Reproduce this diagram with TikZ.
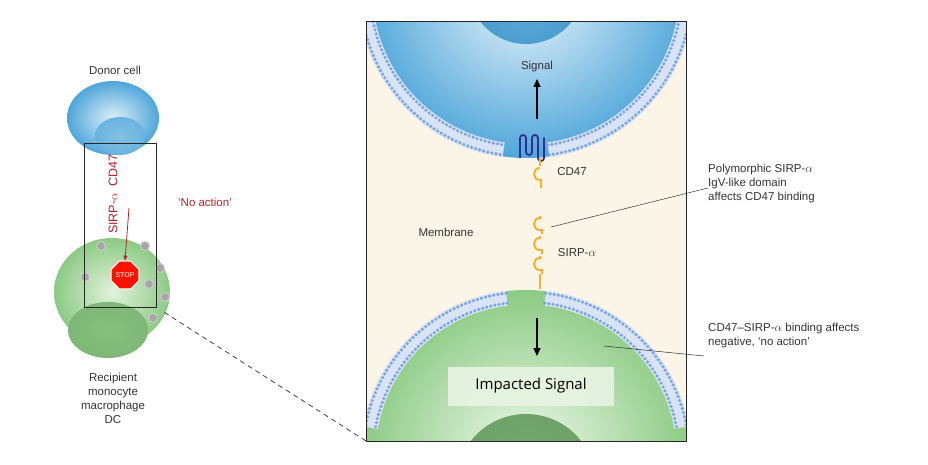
\documentclass[tikz,border=0pt]{standalone}
\usepackage{fontspec}
\setmainfont{Liberation Sans}
\newfontfamily\osans{Open Sans}
\usetikzlibrary{arrows.meta,shapes.geometric}
\definecolor{cream}{HTML}{FBF5E8}
\definecolor{cellblue}{HTML}{4FA6DA}
\definecolor{paleblue}{HTML}{DDEFF8}
\definecolor{cellgreen}{HTML}{8CCB84}
\definecolor{palegreen}{HTML}{E2F1DC}
\definecolor{memb}{HTML}{7FA6DC}
\definecolor{navy}{HTML}{2E3192}
\definecolor{orng}{HTML}{F2B230}
\definecolor{darkred}{HTML}{B2232B}
\tikzset{
  lbl/.style={font=\fontsize{11.5}{14}\selectfont, text=black!80, align=left},
  membr/.style={line width=15pt, memb!30},
  dots/.style={line width=3.6pt, memb, dash pattern=on 0pt off 4.2pt, line cap=round},
  hook/.style={orng, line width=2pt},
  leader/.style={black!80, line width=0.5pt},
  gdot/.style={circle, fill=gray!70, draw=gray!40!white, line width=1pt, minimum size=9pt, inner sep=0pt}
}
\begin{document}
\begin{tikzpicture}[x=1pt,y=1pt]
\useasboundingbox (0,0) rectangle (928,464);
% ---------- right panel ----------
\begin{scope}
\clip (366,23) rectangle (686,442);
\fill[cream] (366,23) rectangle (686,442);
% top cell
\shade[inner color=paleblue!50!white, outer color=cellblue] (526,473.5) circle (167.5);
\shade[inner color=cellblue!85, outer color=cellblue!95!black] (526,478) circle (58);
\draw[membr] (526,473.5) ++(190:161) arc (190:262:161);
\draw[membr] (526,473.5) ++(278:161) arc (278:350:161);
\foreach \r in {156,166}{
  \draw[dots] (526,473.5) ++(190:\r) arc (190:262:\r);
  \draw[dots] (526,473.5) ++(278:\r) arc (278:350:\r);}
% bottom cell
\shade[inner color=palegreen!50!white, outer color=cellgreen] (526,9) circle (165);
\shade[inner color=cellgreen!85!black, outer color=cellgreen!80!black] (526,-20) circle (70);
\draw[membr] (526,9) ++(97:158) arc (97:170:158);
\draw[membr] (526,9) ++(83:158) arc (83:10:158);
\foreach \r in {153,163}{
  \draw[dots] (526,9) ++(97:\r) arc (97:170:\r);
  \draw[dots] (526,9) ++(83:\r) arc (83:10:\r);}
\end{scope}
\draw[black!85, line width=1pt] (366,23) rectangle (686,442);
% receptor
\draw[navy, line width=1.8pt, line join=round]
 (520,306) -- (520,326) arc (180:0:3) -- (526,312) arc (180:360:3) -- (532,326) arc (180:0:3) -- (538,306) arc (180:360:3) -- (544,326) -- (544,306);
% CD47 orange
\draw[hook] (540,306) -- (540,298);
\draw[hook] (540,296) .. controls (532,296) and (532,284) .. (540,284) -- (541,284) -- (541,276);
% SIRP orange hooks
\foreach \yy in {248,228,208}{
  \draw[hook] (540,\yy) -- (540,\yy-2) .. controls (532,\yy-2) and (532,\yy-14) .. (540,\yy-14) -- (542,\yy-14) -- (542,\yy-18);}
\draw[hook] (540,190) -- (540,175);
% arrows and labels
\coordinate (sigtail) at (537,345);
\coordinate (sighead) at (537,385);
\draw[-{Triangle[length=8pt,width=7pt]}, line width=1.5pt] (sigtail) -- (sighead);
\node[lbl] (signal) at (537,397) {Signal};
\coordinate (imptail) at (537,146);
\coordinate (imphead) at (537,108);
\draw[-{Triangle[length=8pt,width=7pt]}, line width=1.5pt] (imptail) -- (imphead);
\node[fill=palegreen!80!white, fill opacity=0.9, text opacity=1, minimum width=166pt, minimum height=39pt, font=\osans\fontsize{15}{18}\selectfont] (imp) at (531,78) {Impacted Signal};
\node[lbl] (cd47) at (572,292) {CD47};
\node[lbl] (membrane) at (446,232) {Membrane};
\node[lbl] (sirp) at (577,211) {SIRP-$\alpha$};
\node[lbl, anchor=north west, inner sep=0pt] (poly) at (708,300) {Polymorphic SIRP-$\alpha$\\IgV-like domain\\affects CD47 binding};
\node[lbl, anchor=north west, inner sep=0pt] (neg) at (708,141) {CD47--SIRP-$\alpha$ binding affects\\negative, `no action'};
\coordinate (l1) at (551,237);
\coordinate (l2) at (604,118);
\draw[leader] (l1) -- (poly.west |- 0,276);
\draw[leader] (l2) -- (704,108);
% ---------- left ----------
\shade[inner color=paleblue, outer color=cellblue] (113,346) ellipse (46 and 37);
\shade[inner color=cellblue!70, outer color=cellblue!85] (120,328) ellipse (25 and 19);
\shade[inner color=palegreen, outer color=cellgreen] (112,172) ellipse (58 and 54);
\shade[inner color=cellgreen!95!black, outer color=cellgreen!90!black] (108,134) ellipse (40 and 28);
\node[gdot] (g1) at (101,218) {};
\node[gdot] (g2) at (145,218) {};
\node[gdot] (g3) at (85,187) {};
\node[gdot] (g4) at (160,196) {};
\node[gdot] (g5) at (149,180) {};
\node[gdot] (g6) at (165,167) {};
\node[gdot] (g7) at (153,146) {};
\node[regular polygon, regular polygon sides=8, fill=red!85!orange, draw=white, line width=1pt, minimum size=30pt, inner sep=0pt, text=white, font=\fontsize{7}{8}\selectfont] (stop) at (125,189) {STOP};
\node[draw=black!85, line width=0.8pt, minimum width=72pt, minimum height=164pt, inner sep=0pt] (box) at (120,239) {};
\node[rotate=90, text=darkred, font=\fontsize{12.5}{14}\selectfont] (rot) at (113,270) {SIRP-$\alpha$\ \ CD47};
\coordinate (rt) at (129,256);
\draw[darkred, line width=0.8pt, -{Triangle[length=5pt,width=4pt]}] (rt) -- (stop.north);
\node[text=darkred, font=\fontsize{11.5}{13}\selectfont] (noact) at (205,262) {`No action'};
\node[lbl] (donor) at (115,394) {Donor cell};
\node[lbl, align=center] (recip) at (113,66) {Recipient\\monocyte\\macrophage\\DC};
\coordinate (pc) at (366,23);
\draw[dashed, black!75, line width=0.8pt, dash pattern=on 5pt off 4pt] (box.south east) ++(8,-5) -- (pc);
\end{tikzpicture}
\end{document}
